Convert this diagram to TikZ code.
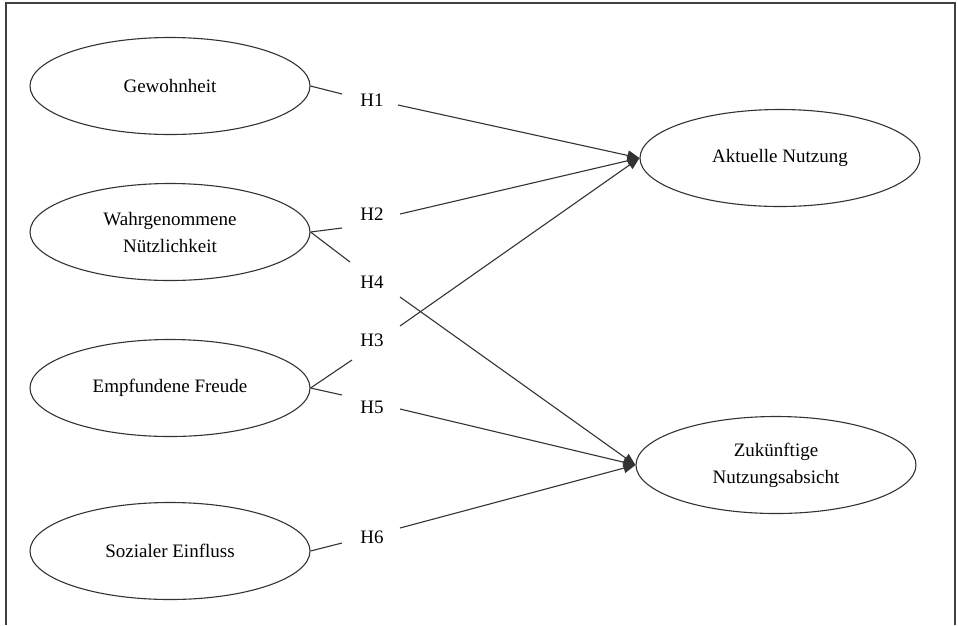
\documentclass[tikz,border=0pt]{standalone}
\usepackage{fontspec}
\setmainfont{Liberation Serif}
\usetikzlibrary{arrows.meta,shapes.geometric}
\begin{document}
\begin{tikzpicture}[x=1pt,y=-1pt,
  construct/.style={draw=black!80, line width=1.1pt, ellipse, minimum width=280pt, minimum height=97pt, inner sep=0pt, align=center, font=\fontsize{19}{27}\selectfont},
  hyp/.style={inner sep=2pt, font=\fontsize{19}{23}\selectfont},
  link/.style={draw=black!80, line width=1.1pt},
  arr/.style={draw=black!80, line width=1.1pt, -{Triangle[length=12pt,width=10pt]}},
  frame/.style={draw=black!75, line width=1.3pt}]
\useasboundingbox (0,0) rectangle (958,625);
\draw[frame] (6,625) -- (6,3) -- (955,3) -- (955,625);
% constructs
\node[construct] (gew) at (170,86) {Gewohnheit};
\node[construct] (wn) at (170,232) {Wahrgenommene\\Nützlichkeit};
\node[construct] (ef) at (170,388) {Empfundene Freude};
\node[construct] (se) at (170,551) {Sozialer Einfluss};
\node[construct] (an) at (780,158) {Aktuelle Nutzung};
\node[construct] (zn) at (776,465) {Zukünftige\\Nutzungsabsicht};
% hypothesis labels
\node[hyp] (h1) at (372,100) {H1};
\node[hyp] (h2) at (372,214) {H2};
\node[hyp] (h4) at (372,282) {H4};
\node[hyp] (h3) at (372,340) {H3};
\node[hyp] (h5) at (372,407) {H5};
\node[hyp] (h6) at (372,537) {H6};
% anchor points
\coordinate (gewR) at (gew.east);
\coordinate (wnR) at (wn.east);
\coordinate (efR) at (ef.east);
\coordinate (seR) at (se.east);
\coordinate (anL) at (an.west);
\coordinate (znL) at (zn.west);
\coordinate (h1a) at (342,94);
\coordinate (h1b) at (398,105);
\coordinate (h2a) at (342,228);
\coordinate (h2b) at (400,214);
\coordinate (h4a) at (350,262);
\coordinate (h4b) at (400,297);
\coordinate (h3a) at (352,360);
\coordinate (h3b) at (400,326);
\coordinate (h5a) at (342,395);
\coordinate (h5b) at (400,409);
\coordinate (h6a) at (342,543);
\coordinate (h6b) at (400,528);
% connectors
\draw[link] (gewR) -- (h1a);
\draw[arr] (h1b) -- (anL);
\draw[link] (wnR) -- (h2a);
\draw[arr] (h2b) -- (anL);
\draw[link] (wnR) -- (h4a);
\draw[arr] (h4b) -- (znL);
\draw[link] (efR) -- (h3a);
\draw[arr] (h3b) -- (anL);
\draw[link] (efR) -- (h5a);
\draw[arr] (h5b) -- (znL);
\draw[link] (seR) -- (h6a);
\draw[arr] (h6b) -- (znL);
\end{tikzpicture}
\end{document}
